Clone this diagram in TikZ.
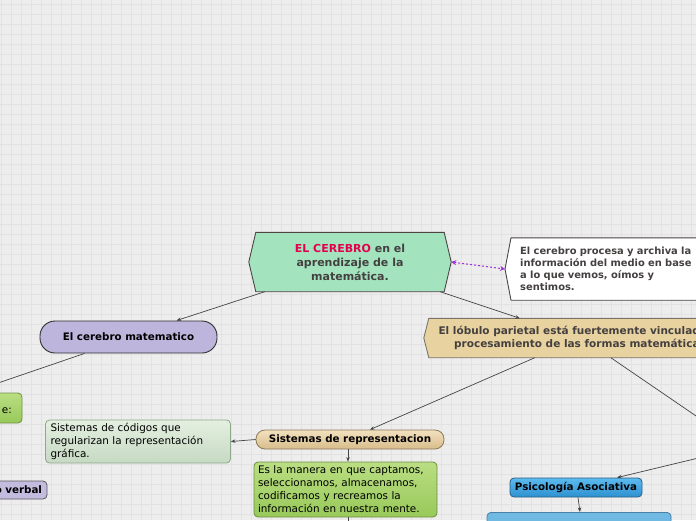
\documentclass[tikz,border=0pt]{standalone}
\usepackage{fontspec}
\setmainfont{DejaVu Sans}
\usetikzlibrary{arrows.meta}
\pgfdeclarelayer{back}\pgfdeclarelayer{bg}
\pgfsetlayers{back,bg,main}
\definecolor{bgc}{HTML}{EDEDED}
\definecolor{gridc}{HTML}{E2E2E2}
\definecolor{cgreen}{HTML}{A3E4BF}
\definecolor{cbord}{HTML}{4D4545}
\definecolor{crim}{HTML}{E3004F}
\definecolor{ctext}{HTML}{454040}
\definecolor{tan}{HTML}{E8D3A0}
\definecolor{tanbord}{HTML}{7A7468}
\definecolor{lav}{HTML}{BDB5DC}
\definecolor{lavbord}{HTML}{2E2E2E}
\definecolor{gtop}{HTML}{BADE82}
\definecolor{gbot}{HTML}{98C95A}
\definecolor{gbord}{HTML}{6E8F44}
\definecolor{ptop}{HTML}{E4EFE0}
\definecolor{pbot}{HTML}{C6DAC3}
\definecolor{pbord}{HTML}{8FA88C}
\definecolor{ttop}{HTML}{F2E1BF}
\definecolor{tbot}{HTML}{D8BC8A}
\definecolor{tbord}{HTML}{8A7A5A}
\definecolor{btop}{HTML}{5CBBEF}
\definecolor{bbot}{HTML}{2D91D0}
\definecolor{bbord}{HTML}{2A5F85}
\definecolor{lblue}{HTML}{6FB9E3}
\definecolor{lbbord}{HTML}{4A7FA8}
\definecolor{purp}{HTML}{9B30D9}
\definecolor{linec}{HTML}{444444}
\begin{document}
\begin{tikzpicture}[x=1pt,y=-1pt,
  conn/.style={draw=linec, line width=0.7pt},
  arr/.style={conn, -{Stealth[length=4.5pt,width=3.5pt]}},
  boldlbl/.style={font=\fontsize{10.3}{13}\selectfont\bfseries, text=black, inner sep=0pt},
  plainbox/.style={font=\fontsize{10.4}{13}\selectfont, text=black, align=left, inner sep=0pt},
  polyfill/.style={line width=0.9pt}
]
\useasboundingbox (0,0) rectangle (696,520);
\begin{pgfonlayer}{back}
\fill[bgc] (0,0) rectangle (696,520);
\foreach \i in {0,...,70} \draw[gridc, line width=0.6pt] (\i*10+1,0) -- (\i*10+1,520);
\foreach \j in {0,...,52} \draw[gridc, line width=0.6pt] (0,\j*10+4) -- (696,\j*10+4);
\end{pgfonlayer}

% central node
\node[minimum width=188pt, minimum height=59pt, inner sep=0pt, align=center,
  font=\fontsize{11}{14}\selectfont\bfseries, text=ctext] (c) at (350,262)
  {\textcolor{crim}{EL CEREBRO} en el\\aprendizaje de la\\matemática.};
\begin{pgfonlayer}{bg}
\filldraw[fill=cgreen, draw=cbord, polyfill] (c.north west) -- (c.north east) -- ([xshift=7pt]c.east) -- (c.south east) -- (c.south west) -- ([xshift=-7pt]c.west) -- cycle;
\end{pgfonlayer}

% white note
\node[minimum height=62pt, text width=232pt, inner xsep=9pt, inner ysep=0pt, align=left, anchor=west,
  font=\fontsize{9.9}{12.2}\selectfont\bfseries, text=ctext] (r) at (511,269)
  {El cerebro procesa y archiva la\\información del medio en base\\a lo que vemos, oímos y\\sentimos.};
\begin{pgfonlayer}{bg}
\filldraw[fill=white, draw=cbord, polyfill] (r.north west) -- (r.north east) -- (r.south east) -- (r.south west) -- ([xshift=-6pt]r.west) -- cycle;
\end{pgfonlayer}
\coordinate (cE) at ([xshift=7pt]c.east);
\coordinate (rW) at ([xshift=-6pt]r.west);
\draw[purp, line width=1pt, dash pattern=on 2pt off 2pt, {Stealth[length=5pt,width=5pt]}-{Stealth[length=5pt,width=5pt]}] (cE) -- (rW);

% tan node
\node[minimum width=302pt, minimum height=39pt, inner sep=0pt, align=center,
  font=\fontsize{10.5}{13}\selectfont\bfseries, text=ctext] (t) at (580,338)
  {El lóbulo parietal está fuertemente vinculado al\\procesamiento de las formas matemáticas};
\begin{pgfonlayer}{bg}
\filldraw[fill=tan, draw=tanbord, polyfill] (t.north west) -- (t.north east) -- ([xshift=5pt]t.east) -- (t.south east) -- (t.south west) -- ([xshift=-5pt]t.west) -- cycle;
\end{pgfonlayer}

% El cerebro matematico
\node[boldlbl, draw=lavbord, fill=lav, line width=0.9pt, rounded corners=15pt,
  minimum width=177pt, minimum height=32pt] (m) at (128.5,337) {El cerebro matematico};

% green partial node at left
\node[draw=gbord, top color=gtop, bottom color=gbot, line width=0.8pt, rounded corners=4pt,
  minimum width=122pt, minimum height=30pt, inner sep=0pt] (g) at (-39,408) {};
\node[plainbox, anchor=east] (gt) at (12,411) {e:};

% o verbal
\node[boldlbl, draw=lavbord!80, fill=lav!90!white, line width=0.8pt, rounded corners=4pt,
  minimum width=107pt, minimum height=18pt, align=right, text width=97pt] (v) at (-6.5,490) {o verbal};

% Sistemas de codigos
\node[plainbox, draw=pbord, top color=ptop, bottom color=pbot, line width=0.8pt, rounded corners=4pt,
  text width=175pt, inner xsep=5pt, minimum height=43pt] (sc) at (138,441.5)
  {Sistemas de códigos que\\regularizan la representación\\gráfica.};

% Sistemas de representacion
\node[boldlbl, draw=tbord, top color=ttop, bottom color=tbot, line width=0.8pt, rounded corners=9pt,
  minimum width=188pt, minimum height=19pt] (sr) at (350,439.5) {Sistemas de representacion};

% Es la manera
\node[plainbox, draw=gbord, top color=gtop, bottom color=gbot, line width=0.8pt, rounded corners=4pt,
  text width=175pt, inner xsep=4pt, minimum height=55pt] (gr) at (345.5,489.5)
  {Es la manera en que captamos,\\seleccionamos, almacenamos,\\codificamos y recreamos la\\información en nuestra mente.};

% Psicologia Asociativa
\node[boldlbl, draw=bbord, top color=btop, bottom color=bbot, line width=0.8pt, rounded corners=4pt,
  minimum width=132pt, minimum height=19pt] (p) at (576,487.5) {Psicología Asociativa};

% Utiliza la asociacion (cut off)
\node[plainbox, draw=lbbord, fill=lblue, line width=0.8pt, rounded corners=4pt,
  text width=176pt, inner xsep=4pt, inner ysep=3pt, minimum height=50pt, anchor=north] (u) at (579,512)
  {Utiliza la asociación};

% off-page coordinates
\coordinate (offL) at (-40,396);
\coordinate (offR1) at (740,446);
\coordinate (offR2) at (740,448);
\coordinate (offB1) at (170,530);
\coordinate (offB2) at (348,535);

% connectors
\draw[arr] ([xshift=9pt]c.south west) -- ([xshift=48pt]m.north);
\draw[arr] ([xshift=-4pt]c.south east) -- ([xshift=91pt]t.north west);
\draw[conn] ([xshift=-44pt]m.south) -- (offL);
\draw[arr] ([xshift=106pt]t.south west) -- ([xshift=20pt]sr.north);
\draw[conn] ([xshift=182pt]t.south west) -- (offR1);
\draw[arr] (offR2) -- ([xshift=41pt]p.north);
\draw[arr] (sr.west) -- (sc.east);
\draw[arr] ([xshift=-2pt]sr.south) -- ([xshift=2.5pt]gr.north);
\draw[conn] ([yshift=-7pt]gr.south west) -- (offB1);
\draw[conn] ([xshift=2.5pt]gr.south) -- (offB2);
\draw[arr] ([xshift=2pt]p.south) -- ([xshift=1pt]u.north);
\end{tikzpicture}
\end{document}
